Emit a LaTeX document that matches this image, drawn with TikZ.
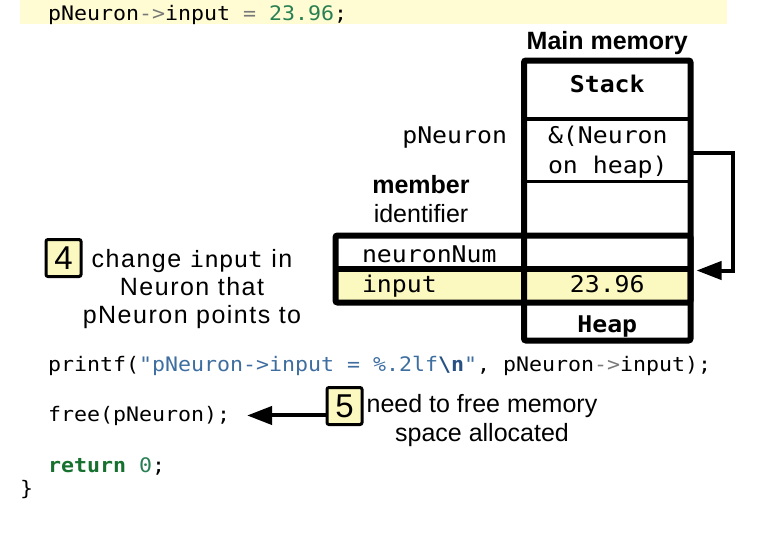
\documentclass[tikz,border=0pt]{standalone}
\usepackage{fontspec}
\setmainfont{Liberation Sans}
\setmonofont[FakeStretch=1.08]{DejaVu Sans Mono}
\newfontfamily\notefont[LetterSpace=6]{Liberation Sans}
\usetikzlibrary{arrows.meta,positioning}

\definecolor{bandyellow}{RGB}{255,252,212}
\definecolor{boxyellow}{RGB}{251,248,192}
\definecolor{codegreen}{RGB}{40,128,82}
\definecolor{keygreen}{RGB}{22,112,46}
\definecolor{codeblue}{RGB}{62,110,160}
\definecolor{escblue}{RGB}{40,80,130}
\definecolor{codegray}{RGB}{120,120,120}

\newcommand{\codesize}{\ttfamily\fontsize{20}{24}\selectfont}
\newcommand{\memsize}{\ttfamily\fontsize{23}{30}\selectfont}

\begin{document}
\begin{tikzpicture}[
        x=1pt, y=-1pt,
        >={Triangle[length=25pt,width=18pt]},
        every node/.style={inner sep=0pt, outer sep=0pt},
        code/.style={font=\codesize, anchor=base west},
        memtext/.style={font=\memsize},
        sanstext/.style={font=\fontsize{25}{29}\selectfont, align=center},
        cell/.style={draw, line width=3.5pt, minimum width=166.5pt},
        namecell/.style={draw, line width=3.5pt, minimum width=188.5pt},
        frame/.style={line width=6pt, rounded corners=2pt},
        stepbox/.style={draw, line width=3pt, fill=boxyellow, rounded corners=2pt,
            minimum width=35pt, minimum height=37pt, font=\fontsize{33}{36}\selectfont},
        link/.style={->, line width=4pt}
    ]
        \useasboundingbox (0,0) rectangle (772,533);

        % code above
        \fill[bandyellow] (20,0) rectangle (727,24);
        \node[code] (assign) at (48,20) {pNeuron\textcolor{codegray}{->}input \textcolor{codegray}{=} \textcolor{codegreen}{23.96};};

        % main memory
        \node[sanstext, anchor=base] (memtitle) at (607.25,49) {\textbf{Main memory}};
        \node[cell, minimum height=58.5pt] (stack) at (607.25,89.75) {};
        \node[cell, minimum height=62.5pt, below=0pt of stack] (ptrcell) {};
        \node[cell, minimum height=54pt, below=0pt of ptrcell] (gapcell) {};
        \node[cell, minimum height=33pt, below=0pt of gapcell] (numcell) {};
        \node[cell, minimum height=34pt, fill=boxyellow, below=0pt of numcell] (valcell) {};
        \node[cell, minimum height=38pt, below=0pt of valcell] (heapcell) {};
        \node[namecell, minimum height=33pt, left=0pt of numcell] (namenum) {};
        \node[namecell, minimum height=34pt, fill=boxyellow, left=0pt of valcell] (namein) {};

        \draw[frame] (stack.north west) rectangle (heapcell.south east);
        \draw[frame] (namenum.north west) rectangle (valcell.south east);
        \draw[frame] (namein.north west) -- (valcell.north east);

        \node[memtext, anchor=base] (stacklbl) at (607.25,92.5) {\textbf{Stack}};
        \node[memtext, anchor=base east] (ptrname) at (507,143) {pNeuron};
        \node[memtext, anchor=base west, align=left] (ptrval) at (548,173) {\&(Neuron\\on heap)};
        \node[sanstext, anchor=base] (memberlbl) at (421,222) {\textbf{member}\\identifier};
        \node[memtext, anchor=base west] (numlbl) at (362,262) {neuronNum};
        \node[memtext, anchor=base west] (inlbl) at (362,292) {input};
        \node[memtext, anchor=base] (inval) at (607.25,292) {23.96};
        \node[memtext, anchor=base] (heaplbl) at (607.25,332) {\textbf{Heap}};

        \draw[link] ([yshift=-3pt]ptrcell.east) -- ++(42,0) |- ([xshift=6pt,yshift=15pt]valcell.east);

        % step 4
        \node[stepbox] (step4) at (63.5,258) {4};
        \node[sanstext, font=\notefont\fontsize{25}{28}\selectfont, anchor=base] (note4) at (192,323)
            {change {\ttfamily\fontsize{22.5}{28}\selectfont input} in\\Neuron that\\pNeuron points to};

        % code below
        \node[code] (printcall) at (48,371) {printf(\textcolor{codeblue}{"pNeuron->input = \%.2lf\textcolor{escblue}{\textbf{\textbackslash n}}"}, pNeuron\textcolor{codegray}{->}input);};
        \node[code] (freecall) at (48,421) {free(pNeuron);};
        \node[code] (retline) at (48,472) {\textcolor{keygreen}{\textbf{return}} \textcolor{codegreen}{0};};
        \node[code] (closing) at (20,495) {\}};

        % step 5
        \node[stepbox] (step5) at (344.5,406) {5};
        \node[sanstext, anchor=base] (note5) at (482,441) {need to free memory\\space allocated};
        \draw[link] (step5.west |- freecall.east) -- ([xshift=17pt]freecall.east);
    \end{tikzpicture}
\end{document}
